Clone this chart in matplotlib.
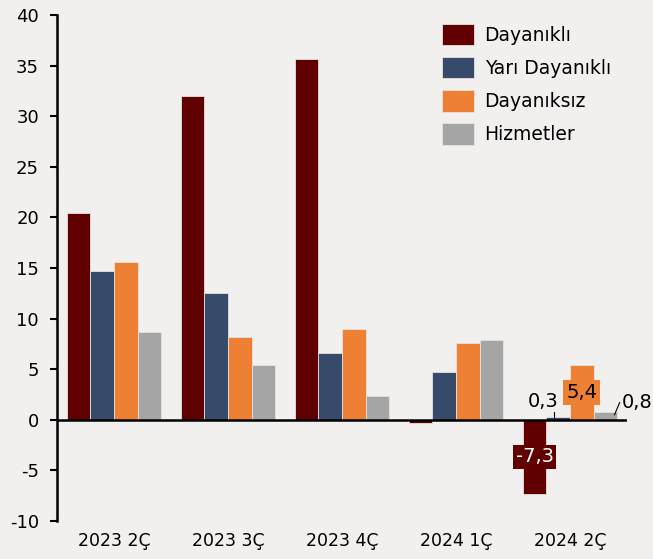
import matplotlib
matplotlib.use("Agg")
import matplotlib.pyplot as plt
import numpy as np

categories = ["2023 2Ç", "2023 3Ç", "2023 4Ç", "2024 1Ç", "2024 2Ç"]
series_names = ["Dayanıklı", "Yarı Dayanıklı", "Dayanıksız", "Hizmetler"]
dayanikli = [20.4, 32.0, 35.7, -0.3, -7.3]
yari_dayanikli = [14.7, 12.5, 6.6, 4.7, 0.3]
dayaniksiz = [15.6, 8.2, 9.0, 7.6, 5.4]
hizmetler = [8.7, 5.4, 2.4, 7.9, 0.8]
yticks = [-10, -5, 0, 5, 10, 15, 20, 25, 30, 35, 40]

colors = ["#600000", "#364a6a", "#ee8033", "#a5a5a5"]
bg = "#f2f0ef"


def fmt(v):
    return f"{v:.1f}".replace(".", ",")


plt.rcParams['font.family'] = ['DejaVu Sans']
fig = plt.figure(figsize=(6.53, 5.59), dpi=100, facecolor=bg)
ax = fig.add_axes([57/653, 38/559, 570/653, 506/559])
ax.set_facecolor(bg)

x = np.arange(len(categories))
w = 0.207
data = [dayanikli, yari_dayanikli, dayaniksiz, hizmetler]
for i, (vals, c, n) in enumerate(zip(data, colors, series_names)):
    ax.bar(x + (i - 1.5) * w, vals, w, color=c, label=n,
           edgecolor="#e6e2e0", linewidth=0.6)

ax.set_xlim(-0.5, 4.5)
ax.set_ylim(-10, 40)
ax.set_yticks(yticks)
ax.set_yticklabels([str(t) for t in yticks], fontsize=13)
ax.set_xticks(x)
ax.set_xticklabels(categories, fontsize=12.5)
ax.tick_params(axis='x', length=0, pad=8)
ax.tick_params(axis='y', length=5, width=1.5, direction='out', pad=8)
for s in ["top", "right", "bottom"]:
    ax.spines[s].set_visible(False)
ax.spines["left"].set_linewidth(1.8)
ax.axhline(0, color="black", lw=1.8, zorder=3)

# Last-period labels
k = 4
xs = [x[k] + (i - 1.5) * w for i in range(4)]
ax.text(xs[0], dayanikli[k] / 2, fmt(dayanikli[k]),
        ha="center", va="center", color="white", fontsize=14,
        bbox=dict(boxstyle="square,pad=0.12", fc=colors[0], ec="none"), zorder=5)
ax.text(xs[2], dayaniksiz[k] / 2, fmt(dayaniksiz[k]),
        ha="center", va="center", color="black", fontsize=14,
        bbox=dict(boxstyle="square,pad=0.15", fc=colors[2], ec="none"), zorder=5)
# 0,3 label with short vertical leader
ax.plot([xs[1] - 0.035, xs[1] - 0.035], [yari_dayanikli[k], 0.8], color="black", lw=0.8, zorder=5)
ax.text(xs[1] - 0.13, 1.8, fmt(yari_dayanikli[k]), ha="center", va="center", fontsize=14, zorder=5)
# 0,8 label with diagonal leader
ax.plot([xs[3] + 0.08, xs[3] + 0.125], [0.5, 1.7], color="black", lw=0.8, zorder=5, clip_on=False)
ax.text(xs[3] + 0.275, 1.7, fmt(hizmetler[k]), ha="center", va="center", fontsize=14,
        zorder=5, clip_on=False)

leg = ax.legend(loc="upper left", bbox_to_anchor=(0.663, 0.998), frameon=False,
                fontsize=13.5, handlelength=1.7, handleheight=1.4,
                labelspacing=0.62, handletextpad=0.55, borderaxespad=0)

fig.savefig("out.png", dpi=100, facecolor=bg)
